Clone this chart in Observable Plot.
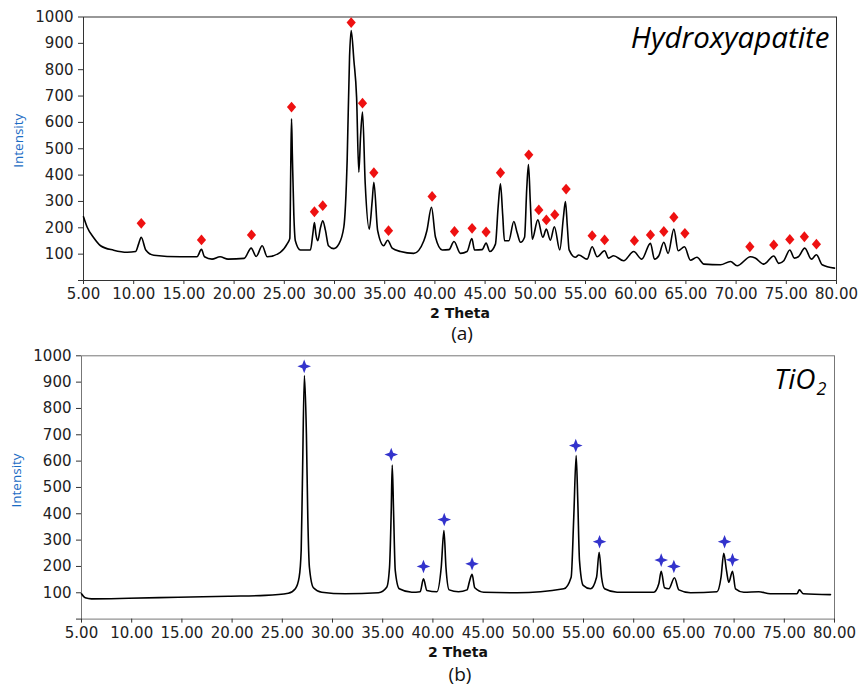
<!DOCTYPE html>
<html>
<head>
<meta charset="utf-8">
<script src="https://cdn.jsdelivr.net/npm/d3@7"></script>
<script src="https://cdn.jsdelivr.net/npm/@observablehq/plot@0.6"></script>
<style>
  html, body { margin: 0; padding: 0; background: #fff; }
  #wrap { width: 860px; }
  svg { display: block; }
</style>
</head>
<body>
<div id="wrap"></div>
<script>
// ---------- data ----------
const xTicks = [5, 10, 15, 20, 25, 30, 35, 40, 45, 50, 55, 60, 65, 70, 75, 80];
const yTicks = [0, 100, 200, 300, 400, 500, 600, 700, 800, 900, 1000];

// Hydroxyapatite XRD pattern (2θ, intensity)
const haX = [5.0,5.37,6.0,6.7,8.0,9.35,10.2,10.5,10.75,11.2,12.0,14.66,16.3,16.75,17.05,17.8,18.6,19.4,21.0,21.7,22.2,22.8,23.3,24.6,25.3,25.55,25.65,25.72,25.8,25.95,26.1,26.6,27.6,27.85,28.0,28.15,28.33,28.6,28.83,29.1,29.4,29.93,30.43,30.93,31.26,31.5,31.66,31.93,32.2,32.42,32.6,32.79,33.06,33.46,33.75,33.92,34.3,34.9,35.3,35.74,36.57,37.9,38.9,39.2,39.66,40.06,40.73,41.4,41.9,42.55,43.2,43.68,43.95,44.7,45.1,45.47,46.03,46.3,46.53,46.75,46.93,47.36,47.86,48.2,48.53,48.93,49.15,49.32,49.5,49.7,50.25,50.75,51.1,51.5,51.9,52.44,52.8,53.0,53.2,53.37,54.0,54.33,55.16,55.66,56.16,56.9,57.3,57.8,58.8,59.8,60.6,61.47,61.87,62.3,62.8,63.23,63.8,64.23,64.86,65.45,66.1,66.8,68.45,69.44,70.1,71.43,71.9,72.76,73.75,74.25,74.75,75.35,75.8,76.2,76.84,77.5,78.0,78.57,79.8];
const haY = [242,202,163,132,115,107,110,140,164,116,96,90,90,118,90,81,90,81,84,123,91,132,90,107,140,160,450,614,480,250,151,116,116,180,220,175,151,200,227,190,132,121,138,203,455,850,949,836,696,411,550,639,367,195,300,373,189,132,153,123,110,103,151,189,278,164,116,117,148,103,110,159,116,117,142,110,138,280,367,250,151,151,224,180,145,164,350,440,300,157,230,164,195,153,204,116,240,300,200,116,88,97,81,128,90,113,85,94,75,110,81,141,81,94,145,103,195,113,128,77,88,62,60,72,56,90,85,62,93,65,75,116,85,90,123,81,98,60,47];

// Hydroxyapatite peak markers
const haMarkX = [10.75,16.75,21.73,25.72,28.0,28.83,31.66,32.79,33.92,35.38,39.72,41.95,43.7,45.1,46.53,49.35,50.35,51.1,51.94,53.07,55.66,56.9,59.87,61.47,62.8,63.8,64.9,71.37,73.75,75.35,76.8,78.0];
const haMarkY = [217,154,173,658,261,284,979,673,409,189,319,186,198,184,409,477,268,230,250,347,170,154,151,173,186,240,179,128,135,156,166,138];

// TiO2 XRD pattern
const tiX = [5.0,5.37,6.0,9.7,14.66,19.64,23.3,25.6,26.3,26.68,26.88,27.0,27.2,27.4,27.54,27.7,28.1,28.93,31.26,34.58,35.4,35.68,35.85,35.95,36.08,36.25,36.65,37.9,38.73,39.06,39.4,40.4,40.83,41.1,41.3,41.62,42.55,43.4,43.67,43.9,44.17,45.07,48.4,53.04,53.77,54.03,54.27,54.43,54.6,54.97,55.7,56.3,56.56,56.8,57.1,58.35,62.0,62.5,62.74,63.07,63.5,64.06,64.5,65.66,68.3,68.7,68.97,69.24,69.47,69.84,70.14,70.97,72.46,73.6,76.26,76.5,76.9,79.6];
const tiY = [96,81,77,79,83,87,90,98,115,159,260,514,925,704,387,197,119,102,96,100,121,197,412,585,412,185,115,102,104,153,109,104,197,336,197,111,104,111,147,170,119,102,100,115,159,387,621,450,223,128,115,159,254,159,115,102,102,134,182,119,115,157,111,100,104,159,250,185,140,182,115,102,104,96,96,111,96,93];

// TiO2 peak markers
const tiMarkX = [27.18,35.85,39.06,41.13,43.9,54.23,56.6,62.74,64.0,69.05,69.84];
const tiMarkY = [960,625,200,378,210,659,294,224,200,294,225];

// ---------- symbols ----------
const diamondSym = {
  draw(ctx, size) {
    const R = Math.sqrt(size / Math.PI);
    const w = R * 0.92, h = R * 1.08;
    ctx.moveTo(0, -h); ctx.lineTo(w, 0); ctx.lineTo(0, h); ctx.lineTo(-w, 0); ctx.closePath();
  }
};
const star4Sym = {
  draw(ctx, size) {
    const R = Math.sqrt(size / Math.PI);
    const r = R * 0.28;
    ctx.moveTo(0, -R); ctx.lineTo(r, -r); ctx.lineTo(R, 0); ctx.lineTo(r, r);
    ctx.lineTo(0, R); ctx.lineTo(-r, r); ctx.lineTo(-R, 0); ctx.lineTo(-r, -r); ctx.closePath();
  }
};

const zip = (xs, ys) => xs.map((x, i) => ({x, y: ys[i]}));

function xrdPlot({height, marginTop, marginBottom, marginLeft, marginRight, curve, marks, frameColor, titleMarks, caption, yLabelDy, thetaDy, capDy}) {
  return Plot.plot({
    width: 860,
    height, marginTop, marginBottom, marginLeft, marginRight,
    style: {fontFamily: "DejaVu Sans", fontSize: "15px", color: "#222", background: "#fff", overflow: "visible"},
    x: {domain: [5, 80]},
    y: {domain: [0, 1000]},
    marks: [
      Plot.frame({stroke: frameColor, strokeWidth: 1}),
      Plot.axisY({ticks: yTicks, tickFormat: d => d === 0 ? "" : String(d), tickSize: 5, tickPadding: 5, label: null, stroke: "#333"}),
      Plot.axisX({ticks: xTicks, tickFormat: d => d.toFixed(2), tickSize: 4, tickPadding: 4, label: null, stroke: "#333"}),
      Plot.line(curve, {x: "x", y: "y", stroke: "#000", strokeWidth: 1.6, strokeLinejoin: "round", curve: "monotone-x"}),
      marks,
      ...titleMarks,
      Plot.text(["2 Theta"], {text: d => d, frameAnchor: "bottom", dy: thetaDy, lineAnchor: "middle", fontWeight: "bold", fontSize: 14, fontFamily: "DejaVu Sans", fill: "#111"}),
      Plot.text([caption], {text: d => d, frameAnchor: "bottom", dx: 2, dy: capDy, lineAnchor: "middle", fontSize: 19, fontFamily: "Open Sans", fill: "#111"}),
      Plot.text(["Intensity"], {text: d => d, frameAnchor: "left", textAnchor: "middle", rotate: -90, dx: -65, dy: yLabelDy, lineAnchor: "middle", fontSize: 13.5, fontFamily: "Open Sans", fill: "#1a6cc4"})
    ]
  });
}

const plotA = xrdPlot({
  height: 345, marginTop: 16.5, marginBottom: 65, marginLeft: 83, marginRight: 24,
  curve: zip(haX, haY),
  marks: Plot.dot(zip(haMarkX, haMarkY), {x: "x", y: "y", symbol: diamondSym, r: 5, fill: "#ee1111", stroke: "none"}),
  frameColor: "#333",
  titleMarks: [
    Plot.text(["Hydroxyapatite"], {text: d => d, frameAnchor: "top-right", textAnchor: "end", lineAnchor: "bottom", dx: -7, dy: 30.5, fontSize: 29.5, fontStyle: "italic", fontFamily: "Open Sans", fill: "#000"})
  ],
  caption: "(a)", yLabelDy: -8, thetaDy: 33.5, capDy: 53
});

const plotB = xrdPlot({
  height: 341, marginTop: 10.3, marginBottom: 67.4, marginLeft: 81, marginRight: 26,
  curve: zip(tiX, tiY),
  marks: Plot.dot(zip(tiMarkX, tiMarkY), {x: "x", y: "y", symbol: star4Sym, r: 6.8, fill: "#3333cc", stroke: "none"}),
  frameColor: "#777",
  titleMarks: [
    Plot.text(["TiO"], {text: d => d, frameAnchor: "top-right", textAnchor: "end", lineAnchor: "bottom", dx: -19, dy: 32.7, fontSize: 28, fontStyle: "italic", fontFamily: "Open Sans", fill: "#000"}),
    Plot.text(["2"], {text: d => d, frameAnchor: "top-right", textAnchor: "end", lineAnchor: "bottom", dx: -8, dy: 38.7, fontSize: 18, fontStyle: "italic", fontFamily: "Open Sans", fill: "#000"})
  ],
  caption: "(b)", yLabelDy: -7, thetaDy: 33, capDy: 55.5
});

const wrap = document.getElementById("wrap");
wrap.appendChild(plotA);
wrap.appendChild(plotB);
</script>
</body>
</html>
